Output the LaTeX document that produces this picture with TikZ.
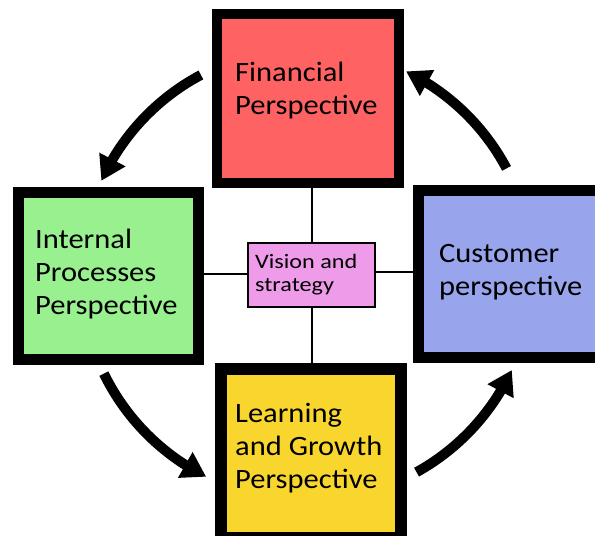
\documentclass[tikz,border=0pt]{standalone}
\usepackage{fontspec}
\setmainfont{Carlito}[FakeStretch=1.09]
\newfontfamily\visfont{Carlito}[FakeStretch=1.18]
\usetikzlibrary{arrows.meta,bending}
\definecolor{finc}{RGB}{255,98,98}
\definecolor{intc}{RGB}{152,240,143}
\definecolor{cusc}{RGB}{152,165,236}
\definecolor{lrnc}{RGB}{249,214,46}
\definecolor{visc}{RGB}{238,156,233}
\tikzset{
  bigbox/.style={draw=black, rectangle, inner sep=0pt},
  label text/.style={anchor=base west, align=left, inner sep=0pt, font=\fontsize{28}{33}\selectfont},
  link/.style={draw=black, line width=2pt},
  cyc/.style={draw=black, line width=10pt, -{Triangle[length=24pt,width=28pt,flex]}},
}
\begin{document}
\begin{tikzpicture}[x=1pt,y=1pt]
\useasboundingbox (0,0) rectangle (595,536);
\clip (0,0) rectangle (595,536);
\fill[white] (0,0) rectangle (595,536);
% boxes
\node[bigbox, fill=finc, line width=10pt, minimum width=182pt, minimum height=169pt] (fin) at (308,437.5) {};
\node[bigbox, fill=intc, line width=11pt, minimum width=180pt, minimum height=167pt] (int) at (108.5,260) {};
\node[bigbox, fill=cusc, line width=11pt, minimum width=190pt, minimum height=167pt] (cus) at (513.5,261.5) {};
\node[bigbox, fill=lrnc, line width=12pt, minimum width=180pt, minimum height=169pt] (lrn) at (311,82.5) {};
\node[bigbox, fill=visc, line width=2pt, minimum width=127pt, minimum height=64pt] (vis) at (311.5,261) {};
% links
\coordinate (vtop) at ([xshift=0.5pt]vis.north);
\coordinate (vbot) at ([xshift=0.5pt]vis.south);
\draw[link] (vtop) -- (vtop |- fin.south);
\draw[link] (vbot) -- (vbot |- lrn.north);
\draw[link] ([yshift=1pt]vis.west) -- ([yshift=1pt]vis.west -| int.east);
\draw[link] ([yshift=3pt]vis.east) -- ([yshift=3pt]vis.east -| cus.west);
% texts (anchor = baseline of last line)
\node[label text] (fint) at (235,421) {Financial\\Perspective};
\node[label text] (intt) at (35,221) {Internal\\Processes\\Perspective};
\node[label text] (cust) at (439,240) {Customer\\perspective};
\node[label text] (lrnt) at (235,47) {Learning\\and Growth\\Perspective};
\node[label text, font=\visfont\fontsize{20.5}{23}\selectfont] (vist) at (255,244) {Vision and\\strategy};
% cycle arrows
\coordinate (c) at (307,261.5);
\draw[cyc] ([shift={(118:226)}]c) arc[start angle=118, end angle=155.5, radius=226];
\draw[cyc] ([shift={(28:226)}]c) arc[start angle=28, end angle=64, radius=226];
\draw[cyc] ([shift={(206:226)}]c) arc[start angle=206, end angle=243.5, radius=226];
\draw[cyc] ([shift={(-61:226)}]c) arc[start angle=-61, end angle=-25, radius=226];
\end{tikzpicture}
\end{document}
